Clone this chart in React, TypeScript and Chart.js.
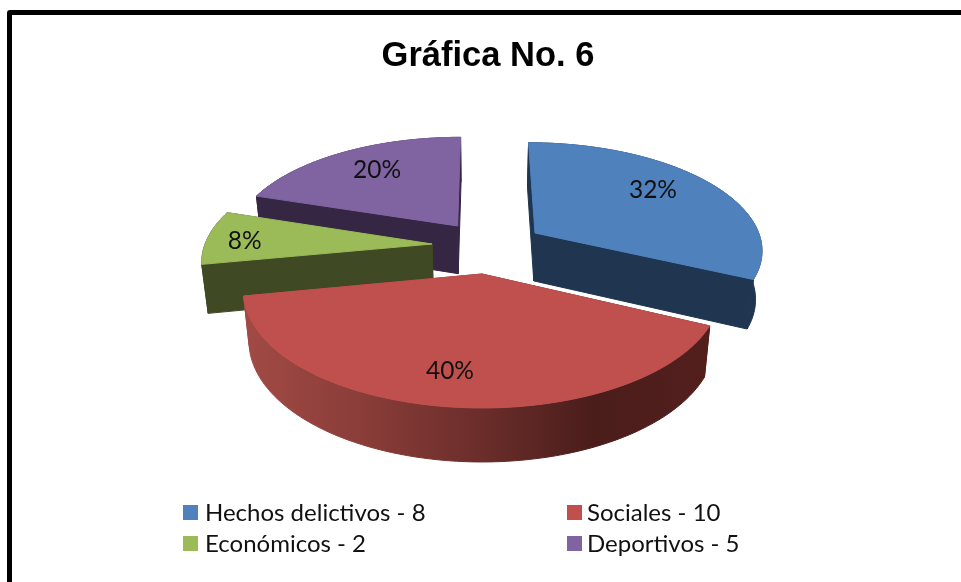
import React, { useEffect, useRef } from "react";
import { Chart, registerables } from "chart.js";

Chart.register(...registerables);

const titleText = "Gráfica No. 6";
const categories = ["Hechos delictivos", "Sociales", "Económicos", "Deportivos"];
const values = [8, 10, 2, 5];
const topColors = ["#4f81bd", "#c0504d", "#9bbb59", "#8064a2"];
const sideColors = ["#1f3550", "#5a2321", "#3f4a24", "#352643"];

// Explosion of each slice in the plane of the pie (unit = pie radius)
const explodeX = [0.237, 0, -0.22, -0.11];
const explodeY = [-0.378, 0, -0.2726, -0.447];
// Label placement inside each slice: fraction of radius, angular nudge in degrees
const labelRadius = [0.726, 0.764, 0.83, 0.724];
const labelNudge = [-5.3, 1.9, -1.6, 2.2];
const drawOrder = [3, 2, 0, 1];

// Perspective camera of the 3-D pie
const CAM = { x: 482, y: 274, a: 236, b: 114.4, p: 0.146 };
const project = (X: number, Y: number) => {
  const s = 1 / (1 - CAM.p * Y);
  return { x: CAM.x + CAM.a * X * s, y: CAM.y + CAM.b * Y * s };
};
const lower = (pt: { x: number; y: number }) => ({
  x: CAM.x + (pt.x - CAM.x) * 0.977,
  y: pt.y + 49.5 + 0.035 * (pt.y - 279),
});

const pie3d = {
  id: "pie3d",
  beforeDatasetsDraw(chart: any) {
    const ctx = chart.ctx;
    const arcs = chart.getDatasetMeta(0).data;
    const total = values.reduce((s, v) => s + v, 0);

    const trace = (pts: { x: number; y: number }[]) => {
      ctx.beginPath();
      pts.forEach((q, k) => (k ? ctx.lineTo(q.x, q.y) : ctx.moveTo(q.x, q.y)));
      ctx.closePath();
    };

    drawOrder.forEach((i) => {
      const { startAngle, endAngle } = arcs[i].getProps(["startAngle", "endAngle"], true);
      const ox = explodeX[i];
      const oy = explodeY[i];
      const rim: { x: number; y: number }[] = [];
      const steps = 80;
      for (let k = 0; k <= steps; k++) {
        const t = startAngle + ((endAngle - startAngle) * k) / steps;
        rim.push(project(ox + Math.cos(t), oy + Math.sin(t)));
      }
      const tip = project(ox, oy);
      const rimLow = rim.map(lower);
      const tipLow = lower(tip);

      let fill: any = sideColors[i];
      if (i === 1) {
        const g = ctx.createLinearGradient(245, 0, 710, 0);
        g.addColorStop(0, "#a24a45");
        g.addColorStop(0.25, "#8a3d39");
        g.addColorStop(0.5, "#6c2e2b");
        g.addColorStop(0.75, "#4a1d1b");
        g.addColorStop(1, "#531f1d");
        fill = g;
      }
      ctx.lineWidth = 1;
      ctx.lineJoin = "round";
      const paint = (pts: { x: number; y: number }[], style: any) => {
        ctx.fillStyle = style;
        ctx.strokeStyle = style;
        trace(pts);
        ctx.fill();
        ctx.stroke();
      };
      paint([...rim, ...rimLow.slice().reverse()], fill);
      paint([tip, rim[0], rimLow[0], tipLow], fill);
      paint([tip, rim[steps], rimLow[steps], tipLow], fill);
      paint([tip, ...rim], topColors[i]);
    });

    ctx.save();
    ctx.fillStyle = "#111";
    ctx.textAlign = "center";
    ctx.textBaseline = "middle";
    ctx.font = "24.5px Lato";
    values.forEach((v, i) => {
      const { startAngle, endAngle } = arcs[i].getProps(["startAngle", "endAngle"], true);
      const t = (startAngle + endAngle) / 2 + (labelNudge[i] * Math.PI) / 180;
      const q = project(
        explodeX[i] + labelRadius[i] * Math.cos(t),
        explodeY[i] + labelRadius[i] * Math.sin(t)
      );
      ctx.fillText(`${Math.round((v / total) * 100)}%`, q.x, q.y);
    });

    // Two-column legend
    const colX = [183, 567];
    const rowY = [513, 544];
    ctx.textAlign = "left";
    ctx.font = "24px Lato";
    categories.forEach((name, i) => {
      const x = colX[i % 2];
      const y = rowY[Math.floor(i / 2)];
      ctx.fillStyle = topColors[i];
      ctx.fillRect(x, y - 8, 15, 15);
      ctx.fillStyle = "#111";
      ctx.fillText(`${name} - ${values[i]}`, x + 22 - (i % 2) * 2, y);
    });
    ctx.restore();
    return false;
  },
};

export default function App() {
  const ref = useRef<HTMLCanvasElement>(null);
  useEffect(() => {
    const chart = new Chart(ref.current as HTMLCanvasElement, {
      type: "pie",
      data: {
        labels: categories,
        datasets: [{ data: values, backgroundColor: topColors, borderWidth: 0 }],
      },
      options: {
        responsive: false,
        animation: false,
        rotation: 0,
        layout: { padding: { left: 15, top: 36 } },
        plugins: {
          legend: { display: false },
          tooltip: { enabled: false },
          title: {
            display: true,
            text: titleText,
            color: "#000",
            font: { family: "Liberation Sans", size: 34.5, weight: "bold" },
            padding: { top: 0, bottom: 0 },
          },
        },
      },
      plugins: [pie3d],
    } as any);
    return () => chart.destroy();
  }, []);
  return (
    <div style={{ position: "fixed", left: 0, top: 0, width: 961, height: 582, overflow: "hidden", background: "#fff" }}>
      <div
        style={{
          position: "absolute",
          left: 7,
          top: 10,
          width: 980,
          height: 600,
          border: "5px solid #000",
          borderRadius: 3,
          boxSizing: "border-box",
        }}
      />
      <canvas ref={ref} width={961} height={582} style={{ position: "absolute", left: 0, top: 0 }} />
    </div>
  );
}
